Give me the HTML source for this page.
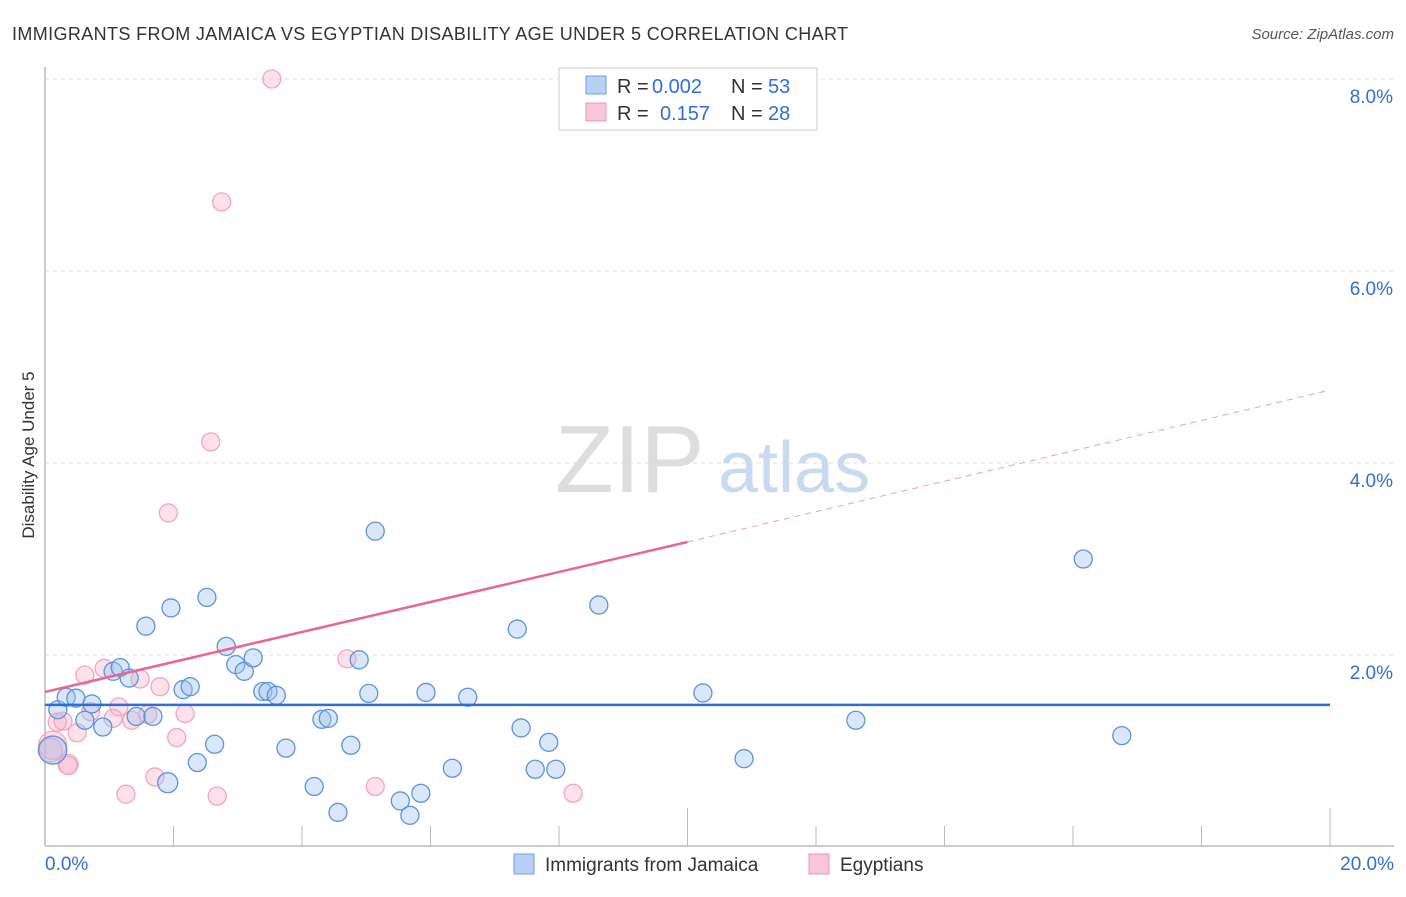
<!DOCTYPE html>
<html><head><meta charset="utf-8"><style>
body{margin:0;background:#fff;font-family:"Liberation Sans",sans-serif;}
svg text{font-family:"Liberation Sans",sans-serif;}
</style></head><body>
<svg id="chart" width="1406" height="892">
<text x="12" y="40" font-size="18" fill="#333" textLength="836">IMMIGRANTS FROM JAMAICA VS EGYPTIAN DISABILITY AGE UNDER 5 CORRELATION CHART</text>
<text x="1394" y="39" font-size="15" fill="#555" font-style="italic" text-anchor="end">Source: ZipAtlas.com</text>
<text transform="translate(34,455) rotate(-90)" font-size="17" fill="#333" text-anchor="middle">Disability Age Under 5</text>
<text x="555" y="492" font-size="96" fill="#ddd" font-family="Liberation Serif">ZIP</text>
<text x="718" y="492" font-size="72" fill="#c8daf2">atlas</text>
<g id="grid"></g><g id="marks"></g>
<g>
<rect x="559" y="68" width="258" height="62" fill="#fff" stroke="#ccc"/>
<rect x="586" y="76" width="20" height="18" fill="#b7d0f4" stroke="#6f9ee0"/>
<rect x="586" y="103" width="20" height="18" fill="#f9c6d5" stroke="#e897b0"/>
<text x="617" y="93" font-size="20" fill="#333">R =</text>
<text x="652" y="93" font-size="20" fill="#2f6fd6">0.002</text>
<text x="731" y="93" font-size="20" fill="#333">N =</text>
<text x="768" y="93" font-size="20" fill="#2f6fd6">53</text>
<text x="617" y="120" font-size="20" fill="#333">R =</text>
<text x="660" y="120" font-size="20" fill="#2f6fd6">0.157</text>
<text x="731" y="120" font-size="20" fill="#333">N =</text>
<text x="768" y="120" font-size="20" fill="#2f6fd6">28</text>
</g>
<g>
<rect x="514" y="854" width="20" height="20" fill="#b7d0f4" stroke="#6f9ee0"/>
<text x="545" y="871" font-size="19" fill="#333">Immigrants from Jamaica</text>
<rect x="809" y="854" width="20" height="20" fill="#f9c6d5" stroke="#e897b0"/>
<text x="840" y="871" font-size="19" fill="#333">Egyptians</text>
</g>
</svg>
<script>
const xTicks=[0,2,4,6,8,10,12,14,16,18,20];
const yTicks=[2,4,6,8];
const blueX=[0.12,0.2,0.33,0.48,0.62,0.73,0.9,1.06,1.17,1.31,1.42,1.68,1.57,1.96,1.91,2.15,2.26,2.37,2.52,2.64,2.82,2.97,3.1,3.24,3.39,3.47,3.6,3.75,4.19,4.31,4.41,4.56,4.76,4.89,5.04,5.14,5.53,5.68,5.85,5.93,6.34,6.58,7.35,7.41,7.63,7.84,7.95,8.62,10.24,10.88,12.62,16.16,16.76];
const blueY=[1.01,1.43,1.56,1.55,1.32,1.49,1.25,1.83,1.87,1.76,1.36,1.36,2.30,2.49,0.67,1.64,1.67,0.88,2.60,1.07,2.09,1.90,1.83,1.97,1.62,1.62,1.58,1.03,0.63,1.33,1.34,0.36,1.06,1.95,1.6,3.29,0.48,0.33,0.56,1.61,0.82,1.56,2.27,1.24,0.81,1.09,0.81,2.52,1.605,0.92,1.32,3.0,1.16];
const blueR=[14,9,9,9,9,9,9,9,9,9,9,9,9,9,10,9,9,9,9,9,9,9,9,9,9,9,9,9,9,9,9,9,9,9,9,9,9,9,9,9,9,9,9,9,9,9,9,9,9,9,9,9,9];
const pinkX=[0.12,0.08,0.19,0.36,0.62,0.92,1.48,1.79,0.28,0.5,0.71,1.15,1.06,1.35,1.6,2.18,2.05,0.36,1.71,1.26,2.68,4.7,5.14,3.53,2.75,2.58,1.92,8.22];
const pinkY=[1.06,1.01,1.30,0.86,1.79,1.86,1.75,1.67,1.31,1.19,1.41,1.46,1.34,1.32,1.38,1.39,1.14,0.85,0.73,0.55,0.53,1.96,0.63,8.0,6.72,4.22,3.48,0.56];
const pinkR=[14,12,9,10,9,9,9,9,9,9,9,9,9,9,9,9,9,9,9,9,9,9,9,9,9,9,9,9];
const blueTrend=[1.48,1.48];
const pinkTrend=[1.615,3.177,4.76];

const NS="http://www.w3.org/2000/svg";
const X0=45,X1=1330,Y0=847,PXY=96;
const sx=v=>X0+(v/20)*(X1-X0);
const sy=v=>Y0-v*PXY;
function mk(tag,attrs,parent){const e=document.createElementNS(NS,tag);for(const k in attrs)e.setAttribute(k,attrs[k]);parent.appendChild(e);return e;}
const grid=document.getElementById('grid'),marks=document.getElementById('marks');
yTicks.forEach(t=>{
  const l=mk('line',{x1:X0,x2:1394,y1:sy(t),y2:sy(t),stroke:'#ddd','stroke-dasharray':'4,4'},grid);
  
  
  const tx=mk('text',{x:1393,y:sy(t)+24,'font-size':19,fill:'#2f6fd6','text-anchor':'end'},grid);
  tx.textContent=t.toFixed(1)+'%';
  
  
});
const ax=mk('line',{x1:X0,x2:X0,y1:67,y2:846,stroke:'#bbb','stroke-width':1.5},grid);


const bx=mk('line',{x1:X0,x2:1394,y1:846,y2:846,stroke:'#bbb','stroke-width':1.5},grid);


xTicks.forEach(t=>{
  const big=(t===10||t===20);
  const l=mk('line',{x1:sx(t),x2:sx(t),y1:big?808:826,y2:846,stroke:'#bbb'},grid);
  
  
});
[[0,'start'],[20,'end']].forEach(([t,a])=>{
  const tx=mk('text',{x:t===0?45:1394,y:870,'font-size':19,fill:'#2f6fd6','text-anchor':a},grid);
  tx.textContent=t.toFixed(1)+'%';
  
  
});
pinkX.forEach((v,i)=>{
  const c=mk('circle',{cx:sx(v),cy:sy(pinkY[i]),r:pinkR[i],fill:'rgba(246,170,195,0.35)',stroke:'#f2a5bf','stroke-width':1.3},marks);
  
  
});
blueX.forEach((v,i)=>{
  const c=mk('circle',{cx:sx(v),cy:sy(blueY[i]),r:blueR[i],fill:'rgba(160,196,240,0.4)',stroke:'#5b93e0','stroke-width':1.3},marks);
  
  
});
const bl=mk('line',{x1:sx(0),x2:sx(20),y1:sy(blueTrend[0]),y2:sy(blueTrend[1]),stroke:'#2c6fd8','stroke-width':2.5},marks);


const pl=mk('line',{x1:sx(0),x2:sx(10),y1:sy(pinkTrend[0]),y2:sy(pinkTrend[1]),stroke:'#e8668f','stroke-width':2.5},marks);


const pd=mk('line',{x1:sx(10),x2:sx(20),y1:sy(pinkTrend[1]),y2:sy(pinkTrend[2]),stroke:'#e8a0b8','stroke-width':1,'stroke-dasharray':'6,5'},marks);


</script>
</body></html>
